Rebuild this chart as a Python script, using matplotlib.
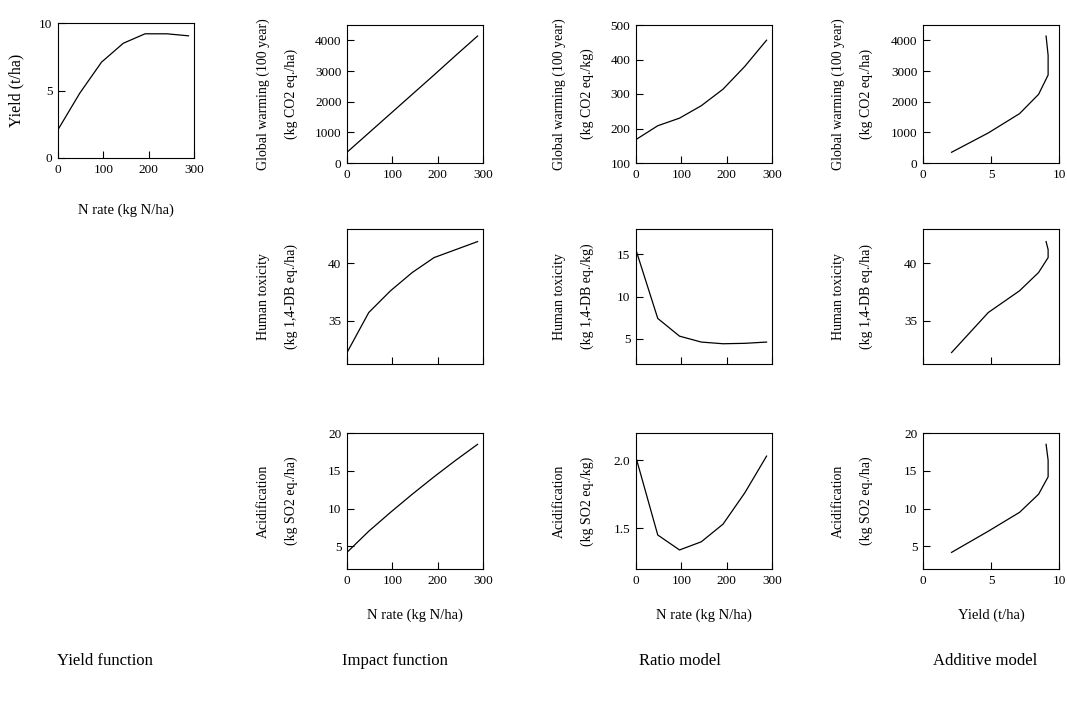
import matplotlib
matplotlib.use("Agg")
import matplotlib.pyplot as plt

plt.rcParams['font.family'] = ['Liberation Serif', 'DejaVu Serif']

# data
n_rate = [0, 48, 96, 144, 192, 240, 288]
yield_t = [2.1, 4.8, 7.1, 8.5, 9.2, 9.2, 9.05]

gw_impact = [350, 980, 1610, 2240, 2870, 3510, 4140]
ht_impact = [32.2, 35.7, 37.6, 39.2, 40.5, 41.2, 41.9]
ac_impact = [4.2, 7.0, 9.5, 11.9, 14.2, 16.4, 18.5]

gw_ratio = [168, 208, 230, 266, 314, 380, 456]
ht_ratio = [15.5, 7.4, 5.3, 4.6, 4.4, 4.45, 4.6]
ac_ratio = [2.02, 1.45, 1.34, 1.40, 1.53, 1.76, 2.03]

ylabels = {
    'gw_ha': 'Global warming (100 year)\n(kg CO2 eq./ha)',
    'gw_kg': 'Global warming (100 year)\n(kg CO2 eq./kg)',
    'ht_ha': 'Human toxicity\n(kg 1,4-DB eq./ha)',
    'ht_kg': 'Human toxicity\n(kg 1,4-DB eq./kg)',
    'ac_ha': 'Acidification\n(kg SO2 eq./ha)',
    'ac_kg': 'Acidification\n(kg SO2 eq./kg)',
}

W, H = 1067, 702
fig = plt.figure(figsize=(W / 100, H / 100), dpi=100)


def make_ax(left, top, w=136, h=136):
    # pixel box -> figure fraction
    return fig.add_axes([left / W, (H - top - h) / H, w / W, h / H])


def style(ax, xlabels=True):
    ax.tick_params(direction='in', length=5, width=0.8, labelsize=9.5,
                   top=False, right=False, pad=4)
    for s in ax.spines.values():
        s.set_linewidth(0.8)
    if not xlabels:
        ax.tick_params(labelbottom=False)


def set_ylab(ax, text, x, size=10):
    ax.set_ylabel(text, fontsize=size, linespacing=2.4)
    ax.yaxis.set_label_coords(x, 0.5)


lw = 0.9

# yield function
ax = make_ax(58, 23, 136, 135)
ax.plot(n_rate, yield_t, color='black', lw=lw)
ax.set_xlim(0, 300)
ax.set_ylim(0, 10)
ax.set_xticks([0, 100, 200, 300])
ax.set_yticks([0, 5, 10])
style(ax)
set_ylab(ax, 'Yield (t/ha)', -0.25, size=11.5)
ax.set_xlabel('N rate (kg N/ha)', fontsize=10.5, labelpad=20)

cols = [347, 636, 923]
ylab_x = [-0.36, -0.31, -0.37]
rows = [(25, 138), (229, 135), (433, 136)]

impact_sets = [
    (gw_impact, gw_ratio, (0, 4500), [0, 1000, 2000, 3000, 4000], (100, 500), [100, 200, 300, 400, 500], 'gw'),
    (ht_impact, ht_ratio, (31.2, 43), [35, 40], (2, 18), [5, 10, 15], 'ht'),
    (ac_impact, ac_ratio, (2, 20), [5, 10, 15, 20], (1.2, 2.2), [1.5, 2.0], 'ac'),
]

for r, (imp, rat, ylim_ha, yt_ha, ylim_kg, yt_kg, key) in enumerate(impact_sets):
    top, h = rows[r]
    show_x = r != 1

    # impact function
    ax = make_ax(cols[0], top, 136, h)
    ax.plot(n_rate, imp, color='black', lw=lw)
    ax.set_xlim(0, 300)
    ax.set_ylim(*ylim_ha)
    ax.set_xticks([0, 100, 200, 300])
    ax.set_yticks(yt_ha)
    style(ax, show_x)
    set_ylab(ax, ylabels[key + '_ha'], ylab_x[0])
    if r == 2:
        ax.set_xlabel('N rate (kg N/ha)', fontsize=10.5, labelpad=16)

    # ratio model
    ax = make_ax(cols[1], top, 136, h)
    ax.plot(n_rate, rat, color='black', lw=lw)
    ax.set_xlim(0, 300)
    ax.set_ylim(*ylim_kg)
    ax.set_xticks([0, 100, 200, 300])
    ax.set_yticks(yt_kg)
    if key == 'ac':
        ax.set_yticklabels(['1.5', '2.0'])
    style(ax, show_x)
    set_ylab(ax, ylabels[key + '_kg'], ylab_x[1])
    if r == 2:
        ax.set_xlabel('N rate (kg N/ha)', fontsize=10.5, labelpad=16)

    # additive model
    ax = make_ax(cols[2], top, 136, h)
    ax.plot(yield_t, imp, color='black', lw=lw)
    ax.set_xlim(0, 10)
    ax.set_ylim(*ylim_ha)
    ax.set_xticks([0, 5, 10])
    ax.set_yticks(yt_ha)
    style(ax, show_x)
    set_ylab(ax, ylabels[key + '_ha'], ylab_x[2])
    if r == 2:
        ax.set_xlabel('Yield (t/ha)', fontsize=10.5, labelpad=16)

titles = [('Yield function', 105), ('Impact function', 395),
          ('Ratio model', 680), ('Additive model', 985)]
for t, x in titles:
    fig.text(x / W, 1 - 661 / H, t, ha='center', va='center', fontsize=12)

fig.savefig('out.png', dpi=100)
